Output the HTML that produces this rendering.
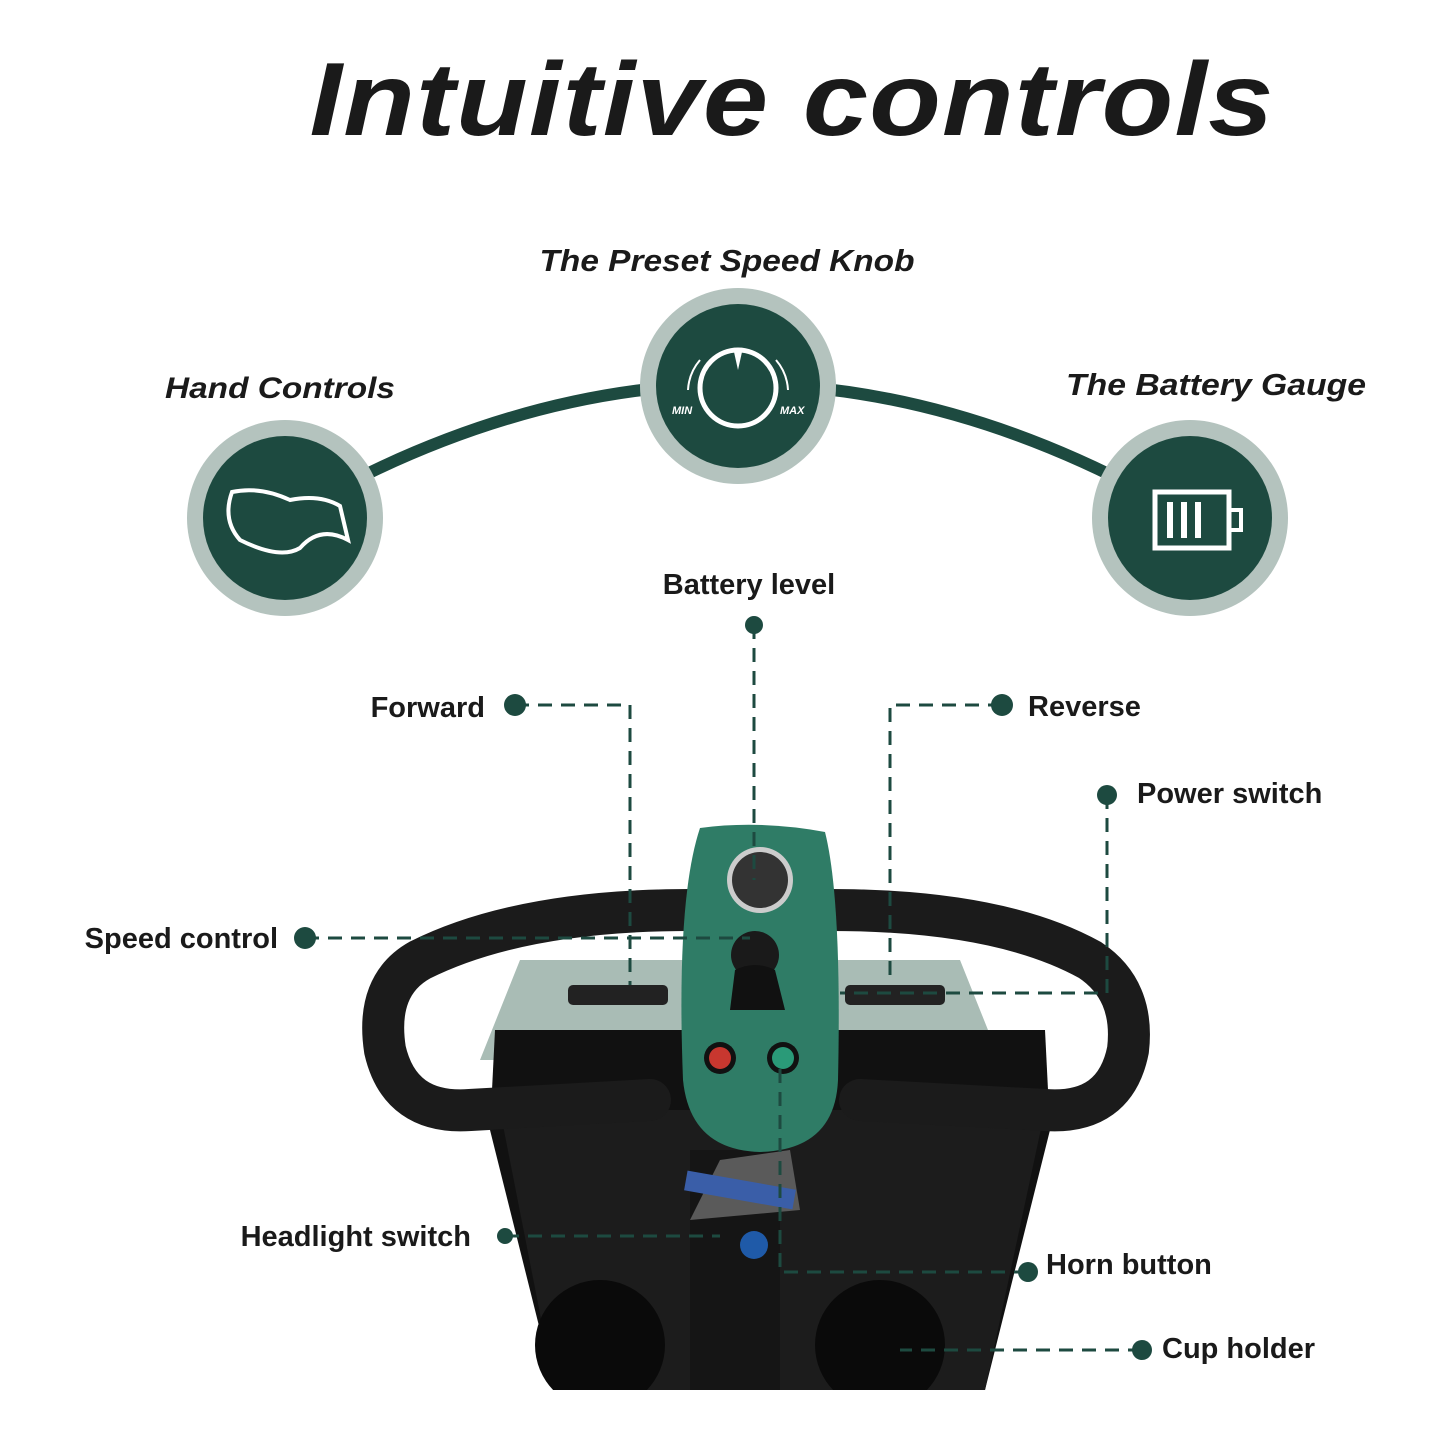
<!DOCTYPE html>
<html><head><meta charset="utf-8"><style>
html,body{margin:0;padding:0;background:#fff}
svg{display:block}
.t{font-family:"Liberation Sans",sans-serif;font-weight:bold;fill:#1a1a1a}
</style></head><body>
<svg width="1445" height="1445" viewBox="0 0 1445 1445" xmlns="http://www.w3.org/2000/svg">
<defs><clipPath id="bc"><rect x="0" y="0" width="1445" height="1390"/></clipPath></defs>
<text x="792" y="135" text-anchor="middle" class="t" font-style="italic" font-size="104" letter-spacing="1" textLength="965" lengthAdjust="spacingAndGlyphs">Intuitive controls</text>

<path d="M285 518 Q738 250 1190 518" fill="none" stroke="#1d4a40" stroke-width="12"/>
<g>
<circle cx="285" cy="518" r="98" fill="#b4c3be"/><circle cx="285" cy="518" r="82" fill="#1d4a40"/>
<circle cx="738" cy="386" r="98" fill="#b4c3be"/><circle cx="738" cy="386" r="82" fill="#1d4a40"/>
<circle cx="1190" cy="518" r="98" fill="#b4c3be"/><circle cx="1190" cy="518" r="82" fill="#1d4a40"/>
</g>
<path d="M232 492 Q260 486 290 500 Q320 494 340 506 L348 540 Q320 525 300 548 Q280 560 240 540 Q222 520 232 492Z" fill="none" stroke="#fff" stroke-width="4"/>
<circle cx="738" cy="388" r="38" fill="none" stroke="#fff" stroke-width="5"/>
<path d="M734 352 L742 352 L738 370Z" fill="#fff"/>
<path d="M700 360 A50 50 0 0 0 688 390" fill="none" stroke="#fff" stroke-width="2"/>
<path d="M776 360 A50 50 0 0 1 788 390" fill="none" stroke="#fff" stroke-width="2"/>
<text x="672" y="414" font-family="Liberation Sans" font-size="11" font-weight="bold" font-style="italic" fill="#fff">MIN</text>
<text x="780" y="414" font-family="Liberation Sans" font-size="11" font-weight="bold" font-style="italic" fill="#fff">MAX</text>
<rect x="1155" y="492" width="74" height="56" fill="none" stroke="#fff" stroke-width="5"/>
<rect x="1229" y="510" width="12" height="20" fill="none" stroke="#fff" stroke-width="4"/>
<rect x="1167" y="502" width="6" height="36" fill="#fff"/><rect x="1181" y="502" width="6" height="36" fill="#fff"/><rect x="1195" y="502" width="6" height="36" fill="#fff"/>

<text x="280" y="398" text-anchor="middle" class="t" font-style="italic" font-size="30" textLength="230" lengthAdjust="spacingAndGlyphs">Hand Controls</text>
<text x="727" y="271" text-anchor="middle" class="t" font-style="italic" font-size="31" textLength="375" lengthAdjust="spacingAndGlyphs">The Preset Speed Knob</text>
<text x="1216" y="395" text-anchor="middle" class="t" font-style="italic" font-size="31" textLength="300" lengthAdjust="spacingAndGlyphs">The Battery Gauge</text>

<g clip-path="url(#bc)">
<path d="M520 960 L960 960 L1000 1060 L480 1060Z" fill="#a9bcb5"/>
<path d="M495 1030 L1045 1030 L1050 1130 L985 1390 L555 1390 L490 1130Z" fill="#111"/>
<path d="M500 1110 L1045 1110 L985 1390 L555 1390Z" fill="#1c1c1c"/>
<circle cx="600" cy="1345" r="65" fill="#0a0a0a"/>
<circle cx="880" cy="1345" r="65" fill="#0a0a0a"/>
<rect x="690" y="1150" width="90" height="240" fill="#151515"/>
</g>
<path d="M690 910 Q520 910 420 960 Q375 985 385 1050 Q400 1115 470 1110 L650 1100" fill="none" stroke="#1b1b1b" stroke-width="42" stroke-linecap="round"/>
<path d="M830 910 Q1000 910 1090 960 Q1135 990 1128 1050 Q1115 1115 1045 1110 L860 1100" fill="none" stroke="#1b1b1b" stroke-width="42" stroke-linecap="round"/>
<rect x="568" y="985" width="100" height="20" rx="5" fill="#222"/>
<rect x="845" y="985" width="100" height="20" rx="5" fill="#222"/>
<path d="M700 828 Q760 820 825 832 Q842 900 838 1080 Q835 1150 760 1152 Q690 1150 683 1080 Q676 900 700 828Z" fill="#2f7c66"/>
<circle cx="760" cy="880" r="33" fill="#ccc"/><circle cx="760" cy="880" r="28" fill="#333"/>
<circle cx="755" cy="955" r="24" fill="#1a1a1a"/>
<path d="M735 970 Q755 960 775 970 L785 1010 L730 1010Z" fill="#111"/>
<circle cx="720" cy="1058" r="16" fill="#111"/><circle cx="720" cy="1058" r="11" fill="#c8372f"/>
<circle cx="783" cy="1058" r="16" fill="#111"/><circle cx="783" cy="1058" r="11" fill="#2a9a78"/>
<path d="M720 1160 L790 1150 L800 1210 L690 1220Z" fill="#5a5a5a"/>
<rect x="685" y="1180" width="110" height="20" fill="#3a5ea8" transform="rotate(10 740 1190)"/>
<circle cx="754" cy="1245" r="14" fill="#1f5aa8"/>

<g stroke="#1d4a40" stroke-width="3" stroke-dasharray="14 9" fill="none">
<path d="M754 625 L754 880"/>
<path d="M515 705 L630 705 L630 985"/>
<path d="M1002 705 L890 705 L890 980"/>
<path d="M1107 795 L1107 993 L840 993"/>
<path d="M305 938 L750 938"/>
<path d="M505 1236 L720 1236"/>
<path d="M1028 1272 L780 1272 L780 1060"/>
<path d="M1142 1350 L900 1350"/>
</g>
<g fill="#1d4a40">
<circle cx="754" cy="625" r="9"/><circle cx="515" cy="705" r="11"/><circle cx="1002" cy="705" r="11"/>
<circle cx="1107" cy="795" r="10"/><circle cx="305" cy="938" r="11"/><circle cx="505" cy="1236" r="8"/>
<circle cx="1028" cy="1272" r="10"/><circle cx="1142" cy="1350" r="10"/>
</g>
<g class="t" font-size="29">
<text x="749" y="594" text-anchor="middle">Battery level</text>
<text x="485" y="717" text-anchor="end">Forward</text>
<text x="1028" y="716">Reverse</text>
<text x="1137" y="803">Power switch</text>
<text x="278" y="948" text-anchor="end">Speed control</text>
<text x="471" y="1246" text-anchor="end">Headlight switch</text>
<text x="1046" y="1274">Horn button</text>
<text x="1162" y="1358">Cup holder</text>
</g>
</svg>
</body></html>
